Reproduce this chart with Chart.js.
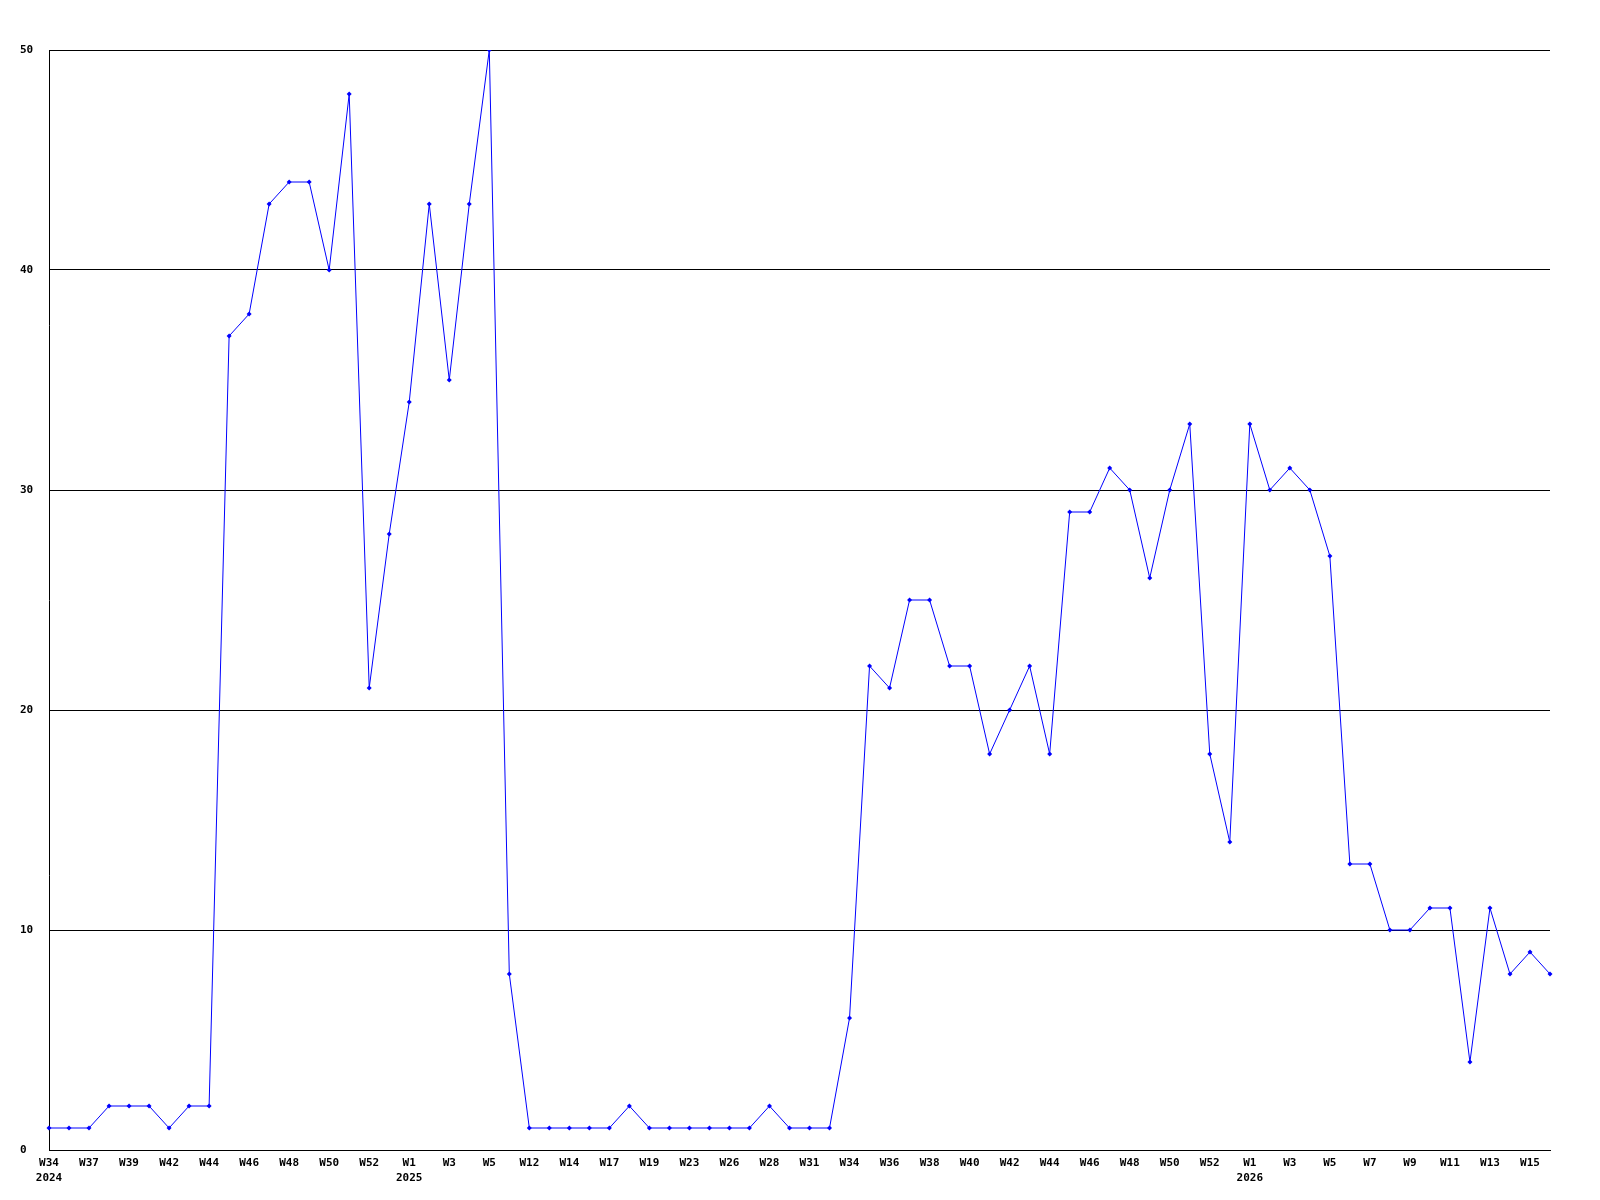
<!DOCTYPE html>
<html>
<head>
<meta charset="utf-8">
<script src="https://cdn.jsdelivr.net/npm/chart.js@4/dist/chart.umd.min.js"></script>
<style>
    body { margin: 0; background: #fff; }
</style>
</head>
<body>
<canvas id="myChart" width="1600" height="1200"></canvas>
<script>
const weeks = [
    'W34', 'W36', 'W37', 'W38', 'W39', 'W41', 'W42', 'W43', 'W44', 'W45',
    'W46', 'W47', 'W48', 'W49', 'W50', 'W51', 'W52', 'W53', 'W1', 'W2',
    'W3', 'W4', 'W5', 'W10', 'W12', 'W13', 'W14', 'W16', 'W17', 'W18',
    'W19', 'W21', 'W23', 'W25', 'W26', 'W27', 'W28', 'W30', 'W31', 'W33',
    'W34', 'W35', 'W36', 'W37', 'W38', 'W39', 'W40', 'W41', 'W42', 'W43',
    'W44', 'W45', 'W46', 'W47', 'W48', 'W49', 'W50', 'W51', 'W52', 'W53',
    'W1', 'W2', 'W3', 'W4', 'W5', 'W6', 'W7', 'W8', 'W9', 'W10',
    'W11', 'W12', 'W13', 'W14', 'W15', 'W16'
];

// year shown under the first week of that year
const years = { 0: '2024', 18: '2025', 60: '2026' };

const counts = [
    1, 1, 1, 2, 2, 2, 1, 2, 2, 37,
    38, 43, 44, 44, 40, 48, 21, 28, 34, 43,
    35, 43, 50, 8, 1, 1, 1, 1, 1, 2,
    1, 1, 1, 1, 1, 1, 2, 1, 1, 1,
    6, 22, 21, 25, 25, 22, 22, 18, 20, 22,
    18, 29, 29, 31, 30, 26, 30, 33, 18, 14,
    33, 30, 31, 30, 27, 13, 13, 10, 10, 11,
    11, 4, 11, 8, 9, 8
];

const yTicks = [0, 10, 20, 30, 40, 50];

const labels = weeks.map((w, i) => years[i] ? [w, years[i]] : w);

const tickFont = { family: 'DejaVu Sans Mono', size: 11, weight: 'bold', lineHeight: 1.35 };

new Chart(document.getElementById('myChart'), {
    type: 'line',
    data: {
        labels: labels,
        datasets: [{
            data: counts,
            borderColor: '#0000ff',
            backgroundColor: '#0000ff',
            borderWidth: 1,
            pointStyle: 'rectRot',
            pointRadius: 2.5,
            pointBorderWidth: 0,
            tension: 0,
            fill: false
        }]
    },
    options: {
        responsive: false,
        animation: false,
        layout: { padding: { left: 20, top: 50, right: 50, bottom: 0 } },
        plugins: {
            legend: { display: false },
            tooltip: { enabled: false }
        },
        scales: {
            x: {
                offset: false,
                grid: { display: false },
                border: { display: true, color: '#000', width: 1 },
                ticks: {
                    autoSkip: false,
                    maxRotation: 0,
                    minRotation: 0,
                    padding: -2,
                    color: '#000',
                    font: tickFont,
                    callback: function (val, i) {
                        return i % 2 === 0 ? this.getLabelForValue(val) : '';
                    }
                },
                afterFit: s => { s.height = 50; }
            },
            y: {
                min: 0,
                max: 50,
                afterBuildTicks: s => { s.ticks = yTicks.map(v => ({ value: v })); },
                grid: { color: '#000', lineWidth: 1, drawTicks: false },
                border: { display: true, color: '#000', width: 1 },
                ticks: {
                    color: '#000',
                    font: tickFont,
                    crossAlign: 'far',
                    padding: 0
                },
                afterFit: s => { s.width = 29; }
            }
        }
    }
});
</script>
</body>
</html>
